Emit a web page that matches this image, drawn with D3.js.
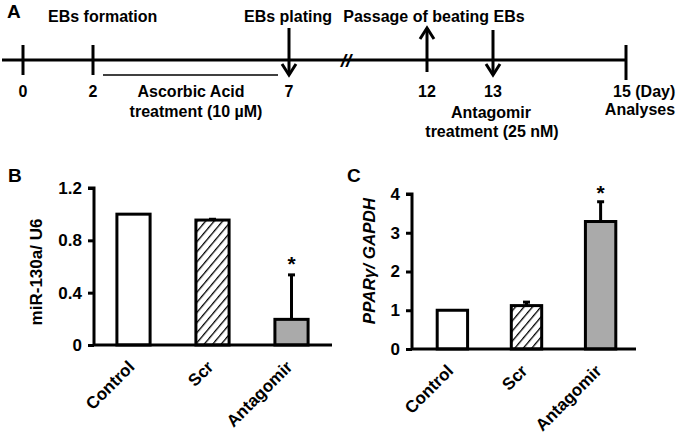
<!DOCTYPE html>
<html><head><meta charset="utf-8">
<script src="https://cdn.jsdelivr.net/npm/d3@7/dist/d3.min.js"></script>
<style>body{margin:0;background:#fff}svg{display:block;font-family:"Liberation Sans",Arial,sans-serif;font-weight:bold}</style>
</head><body><svg id="c" width="685" height="435"></svg>
<script>
// Timeline data
const timelineDays = [0, 2, 7, 12, 13, 15];
const dayLabels = ["0", "2", "7", "12", "13", "15 (Day)"];
// Bar chart data
const categories = ["Control", "Scr", "Antagomir"];
const mirValues = [1.0, 0.955, 0.196];
const mirErrors = [0, 0.006, 0.34];
const mirTicks = [0, 0.4, 0.8, 1.2];
const pparValues = [1.0, 1.12, 3.29];
const pparErrors = [0, 0.09, 0.51];
const pparTicks = [0, 1, 2, 3, 4];
const fills = ["#ffffff", "url(#hatch)", "#aaaaaa"];

const svg = d3.select("#c");
const defs = svg.append("defs");
const pat = defs.append("pattern").attr("id","hatch").attr("patternUnits","userSpaceOnUse")
  .attr("width",6.5).attr("height",6.5).attr("patternTransform","rotate(40)");
pat.append("rect").attr("width",6.5).attr("height",6.5).attr("fill","#fff");
pat.append("line").attr("x1",0).attr("y1",0).attr("x2",0).attr("y2",6.5).attr("stroke","#000").attr("stroke-width",2.6);

// ---------- Panel A ----------
const tx = d3.scaleLinear().domain(timelineDays).range([23, 93, 289, 427, 493, 626]);
const ly = 60;
const gA = svg.append("g");
gA.append("text").attr("x",7).attr("y",18).attr("font-size",19).text("A");
gA.append("line").attr("x1",2).attr("x2",tx(15)).attr("y1",ly).attr("y2",ly).attr("stroke","#000").attr("stroke-width",3);
[0,2,15].forEach(d=>{
  gA.append("line").attr("x1",tx(d)).attr("x2",tx(d)).attr("y1",45).attr("y2",d===15?80:75).attr("stroke","#000").attr("stroke-width",3);
});
timelineDays.forEach((d,i)=>{
  gA.append("text").attr("x",tx(d)).attr("y",97).attr("font-size",16)
    .attr("text-anchor", i===5?"start":"middle").attr("dx", i===5?-13:0).text(dayLabels[i]);
});
function arrow(x, y1, y2){
  gA.append("line").attr("x1",x).attr("x2",x).attr("y1",y1).attr("y2",y2).attr("stroke","#000").attr("stroke-width",3);
  const dir = y2>y1?1:-1;
  gA.append("path").attr("d",`M${x-7},${y2-dir*11} L${x},${y2} L${x+7},${y2-dir*11}`).attr("fill","none").attr("stroke","#000").attr("stroke-width",3);
}
arrow(tx(7), 28, 75);
arrow(tx(12), 72, 28);
arrow(tx(13), 30, 75);
gA.append("text").attr("x",346).attr("y",67).attr("font-size",19).attr("font-style","italic").attr("text-anchor","middle").text("//");
gA.append("line").attr("x1",103).attr("x2",278).attr("y1",75).attr("y2",75).attr("stroke","#000").attr("stroke-width",1.6);
const t16 = (x,y,s,anchor)=>gA.append("text").attr("x",x).attr("y",y).attr("font-size",16).attr("text-anchor",anchor||"middle").text(s);
t16(48,22,"EBs formation","start");
t16(288,22,"EBs plating");
t16(434,22,"Passage of beating EBs");
t16(191,97,"Ascorbic Acid");
t16(196,117,"treatment (10 µM)");
t16(491,118,"Antagomir");
t16(492,137,"treatment (25 nM)");
t16(640,115,"Analyses");

// ---------- Bar panels ----------
function panel(o){
  const g = svg.append("g");
  const x = d3.scaleBand().domain(categories).range([o.x0, o.x1]).paddingInner(o.pin).paddingOuter(o.pout);
  const y = d3.scaleLinear().domain([0, o.max]).range([o.y0, o.y1]);
  g.append("text").attr("x",o.lx).attr("y",o.ly).attr("font-size",19).text(o.letter);
  g.selectAll("rect.bar").data(categories).join("rect")
    .attr("x",d=>x(d)).attr("width",x.bandwidth())
    .attr("y",(d,i)=>y(o.values[i])).attr("height",(d,i)=>y(0)-y(o.values[i]))
    .attr("fill",(d,i)=>fills[i]).attr("stroke","#000").attr("stroke-width",3);
  categories.forEach((c,i)=>{
    if(!o.errors[i]) return;
    const cx = x(c)+x.bandwidth()/2;
    g.append("line").attr("x1",cx).attr("x2",cx).attr("y1",y(o.values[i])).attr("y2",y(o.values[i]+o.errors[i])).attr("stroke","#000").attr("stroke-width",3);
    g.append("line").attr("x1",cx-3.5).attr("x2",cx+3.5).attr("y1",y(o.values[i]+o.errors[i])).attr("y2",y(o.values[i]+o.errors[i])).attr("stroke","#000").attr("stroke-width",3);
  });
  const ac = x("Antagomir")+x.bandwidth()/2;
  g.append("text").attr("x",ac).attr("y",y(o.values[2]+o.errors[2])-o.astOff).attr("font-size",21).attr("text-anchor","middle").text("*");
  const ya = g.append("g").attr("transform",`translate(${o.x0},0)`)
    .call(d3.axisLeft(y).tickValues(o.ticks).tickSize(6).tickPadding(6).tickFormat(d=>String(d)));
  ya.select(".domain").attr("stroke-width",3).attr("d",`M-6,${o.y1}H0V${o.y0}`);
  ya.selectAll(".tick line").attr("stroke-width",3);
  ya.selectAll(".tick text").attr("font-size",17).attr("font-weight","bold").attr("font-family","Liberation Sans, Arial, sans-serif").attr("fill","#000");
  const xa = g.append("g").attr("transform",`translate(0,${o.y0})`).call(d3.axisBottom(x).tickSize(0).tickPadding(0));
  xa.select(".domain").attr("stroke-width",3).attr("d",`M${o.x0-1},0H${o.xEnd}`);
  xa.selectAll(".tick text").attr("font-size",17).attr("font-weight","bold").attr("font-family","Liberation Sans, Arial, sans-serif").attr("fill","#000")
    .attr("text-anchor","end").attr("y",0).attr("dy",0).attr("transform","translate(2,23) rotate(-45)");
  const yl = g.append("text").attr("transform",`translate(${o.ylx},${o.ylc}) rotate(-90)`).attr("font-size",17).attr("text-anchor","middle");
  o.ylabel(yl);
}

panel({letter:"B", lx:8, ly:182, x0:94, x1:331, xEnd:332, pin:0.58, pout:0.29, y0:345, y1:188, max:1.2,
  values:mirValues, errors:mirErrors, ticks:mirTicks, astOff:4, ylx:42, ylc:272,
  ylabel:t=>t.text("miR-130a/ U6")});
panel({letter:"C", lx:347, ly:182, x0:412, x1:641, xEnd:636, pin:0.59, pout:0.34, y0:349, y1:194, max:4,
  values:pparValues, errors:pparErrors, ticks:pparTicks, astOff:2, ylx:375, ylc:261,
  ylabel:t=>{t.attr("font-style","italic"); t.append("tspan").text("PPARγ/ GAPDH");}});
</script></body></html>
